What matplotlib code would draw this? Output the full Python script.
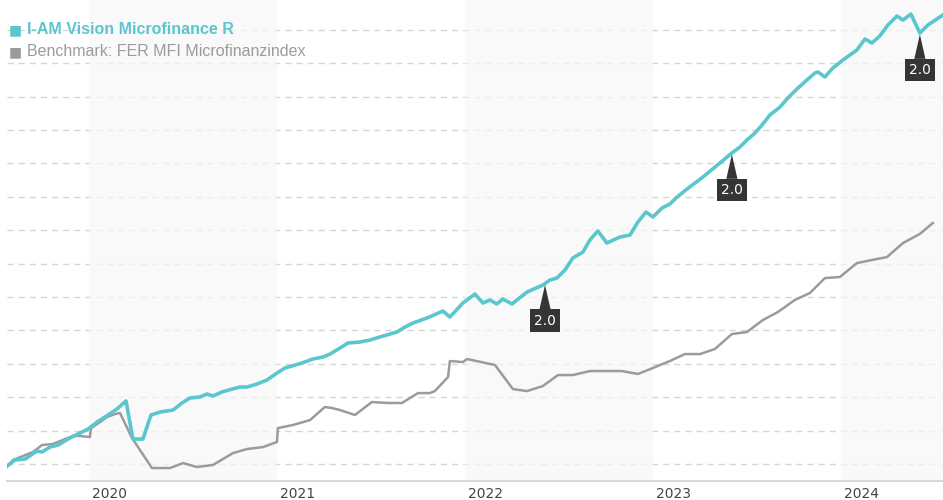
import matplotlib
matplotlib.use("Agg")
import matplotlib.pyplot as plt
import matplotlib.transforms as mtransforms
import numpy as np

# data (x in decimal years, y as index values)
fund_x = [2019.564, 2019.606, 2019.660, 2019.723, 2019.750, 2019.793, 2019.835, 2019.899,
          2019.952, 2019.995, 2020.043, 2020.101, 2020.149, 2020.197, 2020.234, 2020.287,
          2020.330, 2020.378, 2020.447, 2020.495, 2020.537, 2020.590, 2020.628, 2020.660,
          2020.707, 2020.761, 2020.803, 2020.840, 2020.894, 2020.947, 2021.000, 2021.043,
          2021.080, 2021.133, 2021.191, 2021.245, 2021.282, 2021.335, 2021.378, 2021.441,
          2021.495, 2021.548, 2021.638, 2021.681, 2021.723, 2021.798, 2021.883, 2021.920,
          2021.989, 2022.053, 2022.096, 2022.133, 2022.170, 2022.202, 2022.250, 2022.330,
          2022.415, 2022.452, 2022.489, 2022.532, 2022.574, 2022.628, 2022.665, 2022.707,
          2022.755, 2022.824, 2022.878, 2022.920, 2022.963, 2023.000, 2023.048, 2023.090,
          2023.128, 2023.181, 2023.266, 2023.356, 2023.420, 2023.463, 2023.500, 2023.543,
          2023.580, 2023.622, 2023.676, 2023.718, 2023.766, 2023.819, 2023.862, 2023.878,
          2023.915, 2023.957, 2024.011, 2024.085, 2024.128, 2024.165, 2024.207, 2024.250,
          2024.298, 2024.330, 2024.372, 2024.420, 2024.463, 2024.543]
fund_y = [99.85, 100.30, 100.37, 100.97, 100.90, 101.27, 101.42, 101.95,
          102.32, 102.62, 103.14, 103.67, 104.12, 104.72, 101.87, 101.87,
          103.67, 103.89, 104.04, 104.57, 104.94, 105.02, 105.24, 105.09,
          105.39, 105.61, 105.76, 105.76, 105.99, 106.29, 106.81, 107.19,
          107.34, 107.56, 107.86, 108.01, 108.23, 108.68, 109.06, 109.13,
          109.28, 109.51, 109.88, 110.25, 110.55, 110.93, 111.45, 111.00,
          112.05, 112.72, 112.05, 112.28, 111.98, 112.35, 111.98, 112.87,
          113.40, 113.77, 113.92, 114.52, 115.42, 115.87, 116.77, 117.44,
          116.54, 116.99, 117.14, 118.11, 118.86, 118.49, 119.16, 119.46,
          119.98, 120.58, 121.48, 122.53, 123.28, 123.73, 124.25, 124.78,
          125.37, 126.12, 126.72, 127.40, 128.07, 128.74, 129.27, 129.34,
          128.97, 129.64, 130.24, 130.99, 131.81, 131.51, 132.04, 132.86,
          133.53, 133.23, 133.68, 132.26, 132.86, 133.61]

bench_x = [2019.564, 2019.596, 2019.649, 2019.702, 2019.750, 2019.809, 2019.872, 2019.915,
           2019.952, 2020.005, 2020.011, 2020.059, 2020.096, 2020.138, 2020.165, 2020.229,
           2020.335, 2020.431, 2020.500, 2020.574, 2020.660, 2020.766, 2020.840, 2020.926,
           2021.000, 2021.005, 2021.085, 2021.176, 2021.255, 2021.293, 2021.335, 2021.415,
           2021.505, 2021.590, 2021.665, 2021.750, 2021.814, 2021.840, 2021.910, 2021.920,
           2021.989, 2022.011, 2022.160, 2022.255, 2022.330, 2022.415, 2022.495, 2022.574,
           2022.665, 2022.835, 2022.920, 2023.000, 2023.090, 2023.170, 2023.250, 2023.330,
           2023.420, 2023.500, 2023.585, 2023.665, 2023.755, 2023.835, 2023.915, 2023.995,
           2024.085, 2024.165, 2024.245, 2024.330, 2024.420, 2024.489]
bench_y = [99.78, 100.30, 100.60, 100.90, 101.42, 101.50, 101.87, 102.10,
           102.10, 102.02, 102.69, 103.14, 103.52, 103.74, 103.82, 101.95,
           99.70, 99.70, 100.07, 99.78, 99.93, 100.82, 101.12, 101.27,
           101.65, 102.69, 102.92, 103.29, 104.27, 104.19, 104.04, 103.67,
           104.64, 104.57, 104.57, 105.31, 105.31, 105.46, 106.51, 107.71,
           107.63, 107.86, 107.41, 105.61, 105.46, 105.84, 106.66, 106.66,
           106.96, 106.96, 106.74, 107.19, 107.71, 108.23, 108.23, 108.61,
           109.73, 109.88, 110.78, 111.38, 112.28, 112.80, 113.92, 114.00,
           115.04, 115.27, 115.49, 116.54, 117.22, 118.04]

# distribution flags
flag_x = [2022.426, 2023.420, 2024.420]
flag_labels = ["2.0", "2.0", "2.0"]

years = [2020, 2021, 2022, 2023, 2024]
shaded_years = [2020, 2022, 2024]

TEAL = "#5cc6ce"
GRAY = "#9b9b9b"
GRID = "#d6d6d6"

fig = plt.figure(figsize=(9.43, 5.0), dpi=100)
ax = fig.add_axes([7 / 943, 19 / 500, 1 - 7 / 943, 1 - 19 / 500])
ax.set_xlim(2019.564, 2024.543)
ax.set_ylim(98.73, 134.73)

# dashed gridlines
ax.set_yticks(np.arange(100, 133, 2.5))
ax.grid(axis="y", color=GRID, lw=1, linestyle=(0, (4.5, 3.5)), zorder=0)
ax.set_axisbelow(True)
ax.tick_params(axis="y", left=False, labelleft=False)

# alternating year bands
for yr in shaded_years:
    ax.axvspan(yr, yr + 1, color="#f7f7f7", alpha=0.7, lw=0, zorder=1)

ax.plot(bench_x, bench_y, color=GRAY, lw=1.8, zorder=3)
ax.plot(fund_x, fund_y, color=TEAL, lw=2.6, zorder=4)

# flags
for fx, lab in zip(flag_x, flag_labels):
    fy = np.interp(fx, fund_x, fund_y)
    ax.annotate(lab, xy=(fx, fy), xytext=(0, -37), textcoords="offset pixels",
                ha="center", va="center", color="white", fontsize=10,
                bbox=dict(boxstyle="square,pad=0.3", fc="#353535", ec="none"),
                arrowprops=dict(arrowstyle="wedge,tail_width=0.8", fc="#353535",
                                ec="none", shrinkA=0, shrinkB=1),
                zorder=6)

# axes styling
for s in ["top", "left", "right"]:
    ax.spines[s].set_visible(False)
ax.spines["bottom"].set_color("#d8d8d8")
ax.spines["bottom"].set_linewidth(1.5)
ax.set_xticks(years)
ax.set_xticklabels([str(y) for y in years])
ax.tick_params(axis="x", length=0, pad=4, labelsize=10, labelcolor="#444444")
offset = mtransforms.ScaledTranslation(3 / 100, 0, fig.dpi_scale_trans)
for lbl in ax.get_xticklabels():
    lbl.set_ha("left")
    lbl.set_transform(lbl.get_transform() + offset)

# legend
fig.text(9 / 943, 1 - 30 / 500, "\u25a0", color=TEAL, fontsize=10, va="center", ha="left")
fig.text(27 / 943, 1 - 30 / 500, "I-AM Vision Microfinance R", color=TEAL, fontsize=11.5,
         fontweight="bold", family="Liberation Sans", va="center", ha="left")
fig.text(9 / 943, 1 - 52 / 500, "\u25a0", color=GRAY, fontsize=10, va="center", ha="left")
fig.text(27 / 943, 1 - 52 / 500, "Benchmark: FER MFI Microfinanzindex", color=GRAY, fontsize=11.5,
         family="Liberation Sans", va="center", ha="left")

fig.savefig("out.png", dpi=100, facecolor="white")
